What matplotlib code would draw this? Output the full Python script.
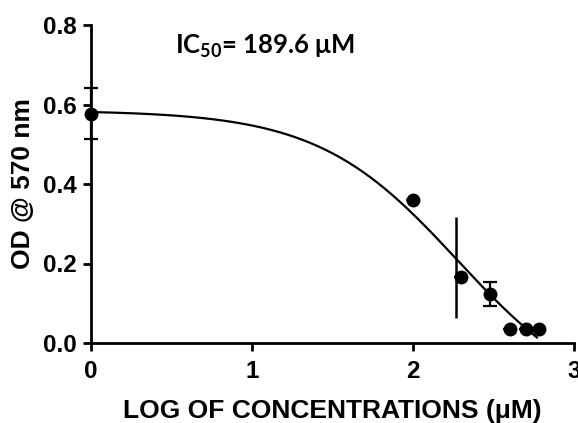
import numpy as np
import matplotlib
matplotlib.use("Agg")
import matplotlib.pyplot as plt

# Measured optical density vs log10 concentration (µM)
log_conc = [0.0, 2.0, 2.30, 2.48, 2.60, 2.70, 2.78]
od_mean = [0.577, 0.36, 0.165, 0.123, 0.035, 0.035, 0.035]
od_err = [0.064, 0.0, 0.0, 0.030, 0.0, 0.0, 0.0]

# Wide uncapped error bar near the midpoint
wide_bar_x = [2.265]
wide_bar_y = [0.19]
wide_bar_err = [0.127]

# Four-parameter logistic fit
fit_top = 0.585
fit_bottom = -0.17
fit_log_ic50 = 2.278
fit_hill = 1.0
fit_x_max = 2.77

x_ticks = [0, 1, 2, 3]
y_ticks = [0.0, 0.2, 0.4, 0.6, 0.8]
ic50_text = "IC$_{50}$= 189.6 μM"

plt.rcParams["font.family"] = ["Liberation Sans", "DejaVu Sans"]
plt.rcParams["mathtext.default"] = "regular"

fig = plt.figure(figsize=(5.78, 4.23), dpi=100)
ax = fig.add_axes([91 / 578, 1 - 343 / 423, 483 / 578, 318 / 423])

xf = np.linspace(0, fit_x_max, 300)
yf = fit_bottom + (fit_top - fit_bottom) / (1 + 10 ** ((xf - fit_log_ic50) * fit_hill))
ax.plot(xf, yf, color="black", lw=1.6, clip_on=False, zorder=3)

ax.errorbar(log_conc, od_mean, yerr=od_err, fmt="o", color="black",
            ms=9, elinewidth=1.6, capsize=5, capthick=1.6,
            clip_on=False, zorder=4)
ax.errorbar(wide_bar_x, wide_bar_y, yerr=wide_bar_err, fmt="none",
            ecolor="black", elinewidth=1.8, capsize=0, zorder=4)

ax.set_xlim(0, 3)
ax.set_ylim(0, 0.8)
ax.set_xticks(x_ticks)
ax.set_yticks(y_ticks)
ax.set_xticklabels([str(t) for t in x_ticks])
ax.set_yticklabels([f"{t:.1f}" for t in y_ticks])

for side in ("top", "right"):
    ax.spines[side].set_visible(False)
for side in ("left", "bottom"):
    ax.spines[side].set_linewidth(2.0)

ax.tick_params(axis="both", direction="out", length=6, width=2.0,
               labelsize=17.5)
ax.tick_params(axis="x", pad=6)
ax.tick_params(axis="y", pad=4)
for lab in ax.get_xticklabels() + ax.get_yticklabels():
    lab.set_fontweight("bold")

ax.set_xlabel("LOG OF CONCENTRATIONS (μM)", fontsize=19, fontweight="bold",
              labelpad=12)
ax.set_ylabel("OD @ 570 nm", fontsize=19, fontweight="bold", labelpad=6)

fig.text(175 / 578, 1 - 46 / 423, ic50_text, fontsize=18.5, fontweight="bold",
         family=["Lato", "DejaVu Sans"], va="center", ha="left")

fig.savefig("out.png", dpi=100)
